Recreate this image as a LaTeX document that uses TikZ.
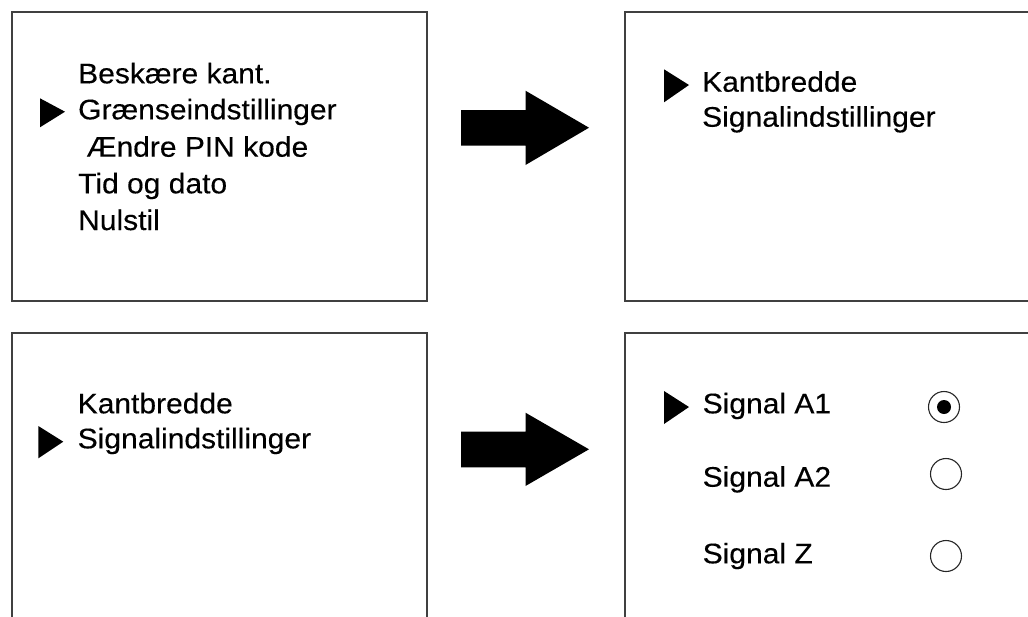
\documentclass[tikz,border=0pt]{standalone}
\usepackage{fontspec}
\setmainfont{Liberation Sans}[FakeStretch=1.06,FakeBold=0.3]
\begin{document}
\begin{tikzpicture}[x=1pt,y=-1pt,
  frame/.style={draw=black!75, line width=1.3pt},
  item/.style={anchor=base west, inner sep=0pt, font=\fontsize{28.3}{32}\selectfont},
  marker/.style={fill=black},
  bigarrow/.style={fill=black},
  radio/.style={draw=black!85, line width=1.1pt, fill=white}]
\useasboundingbox (0,0) rectangle (1028,616);
\clip (0,0) rectangle (1028,616);
% frames
\draw[frame] (12,12) rectangle (427,301);
\draw[frame] (625,12) rectangle (1040,301);
\draw[frame] (12,333) rectangle (427,640);
\draw[frame] (625,333) rectangle (1040,640);
% panel 1
\node[item] (t11) at (78,83.3) {Beskære kant.};
\node[item] (t12) at (78,119.3) {Grænseindstillinger};
\node[item] (t13) at (78,156.7) {\ Ændre PIN kode};
\node[item] (t14) at (78,193.3) {Tid og dato};
\node[item] (t15) at (78,230) {Nulstil};
\fill[marker] (40,98.3) -- (65,111.7) -- (40,127.3) -- cycle;
% arrow 1
\fill[bigarrow] (461,110) -- (525.5,110) -- (525.5,90.7) -- (589,127.7) -- (525.5,165) -- (525.5,145.7) -- (461,145.7) -- cycle;
% panel 2
\node[item] (t21) at (702,91.7) {Kantbredde};
\node[item] (t22) at (702,126.7) {Signalindstillinger};
\fill[marker] (664,69.3) -- (689,85) -- (664,102.3) -- cycle;
% panel 3
\node[item] (t31) at (77.5,413.3) {Kantbredde};
\node[item] (t32) at (77.5,448.3) {Signalindstillinger};
\fill[marker] (38.3,426) -- (63.3,441.7) -- (38.3,458.3) -- cycle;
% arrow 2
\fill[bigarrow] (461,431.7) -- (525.5,431.7) -- (525.5,412.7) -- (589,449.3) -- (525.5,486) -- (525.5,467.3) -- (461,467.3) -- cycle;
% panel 4
\node[item] (t41) at (702.5,413.3) {Signal A1};
\node[item] (t42) at (702.5,486.7) {Signal A2};
\node[item] (t43) at (702.5,563.3) {Signal Z};
\fill[marker] (664,391) -- (689,407) -- (664,424) -- cycle;
\draw[radio] (944,407) circle (15.5);
\fill (944,407) circle (7);
\draw[radio] (946,474) circle (15.5);
\draw[radio] (946,556) circle (15.5);
\end{tikzpicture}
\end{document}
